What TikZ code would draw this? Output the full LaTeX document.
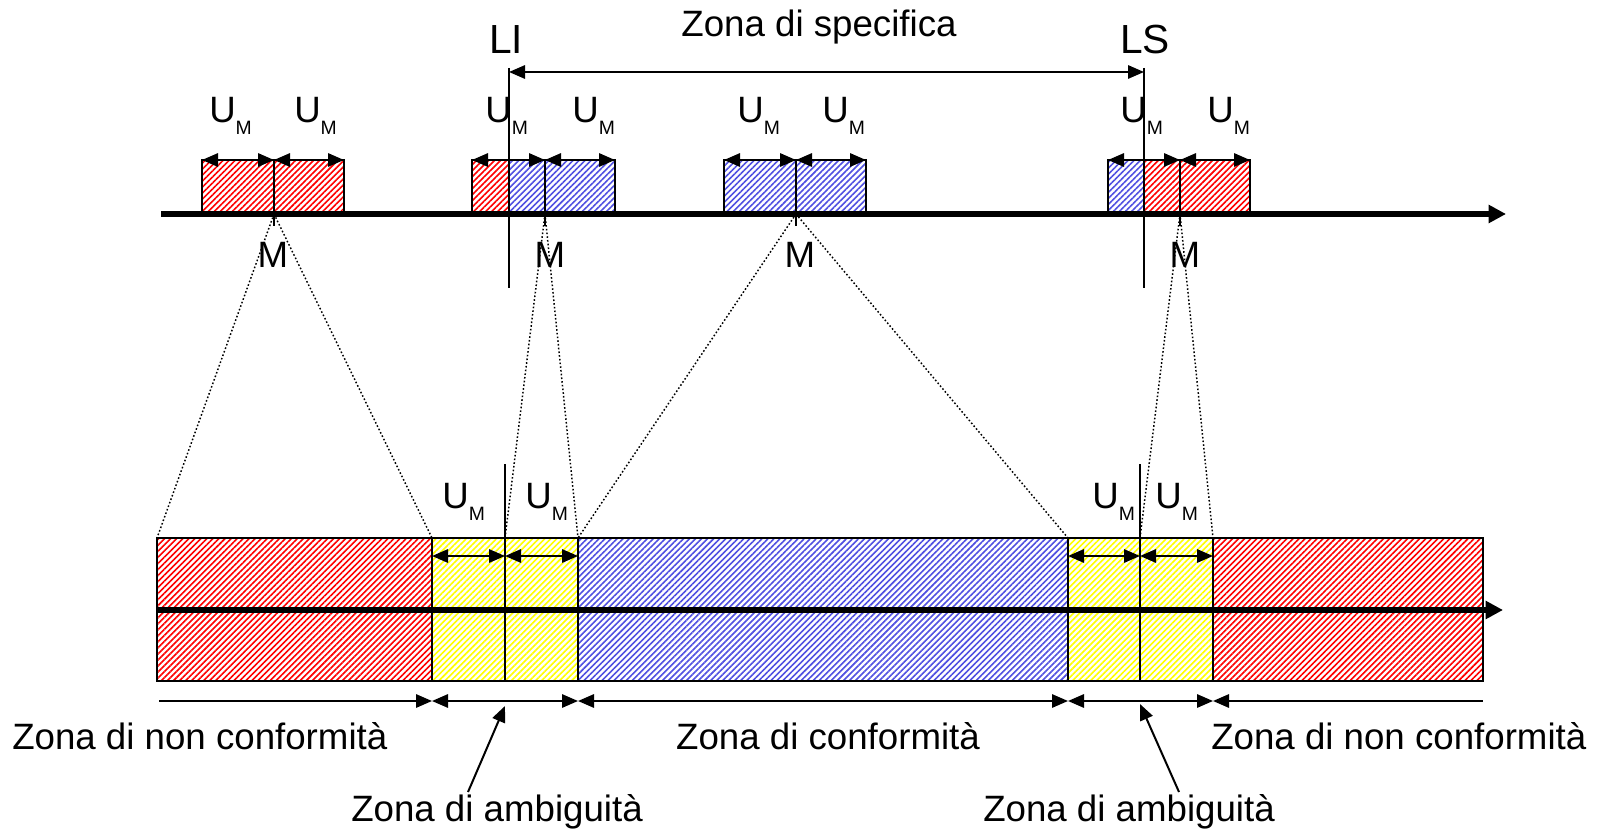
\documentclass[tikz,border=0pt]{standalone}
\usepackage{fontspec}
\setmainfont{Liberation Sans}
\usetikzlibrary{arrows.meta,patterns.meta}
\newcommand{\UmLabel}{U\raisebox{-9pt}{\fontsize{14.5}{16}\selectfont M}}

\begin{document}
\begin{tikzpicture}[x=0.75pt,y=0.75pt,yscale=-1,xscale=1,
  >={Triangle[length=12pt,width=10pt]},
  txt/.style={font=\fontsize{27.5}{33}\selectfont, inner sep=0pt},
  lim/.style={font=\fontsize{30.5}{36}\selectfont, inner sep=0pt},
  axisline/.style={line width=4pt, -{Triangle[length=13pt,width=13pt]}},
  thin/.style={line width=1.5pt},
  hred/.style={draw, line width=1.5pt, pattern={Lines[angle=45,distance=3.2pt,line width=1.2pt]}, pattern color=red},
  hblue/.style={draw, line width=1.5pt, pattern={Lines[angle=45,distance=3.2pt,line width=1.2pt]}, pattern color={rgb,255:red,80;green,80;blue,225}},
  hyel/.style={draw, line width=1.5pt, pattern={Lines[angle=45,distance=3.2pt,line width=1.2pt]}, pattern color=yellow},
  proj/.style={line width=1.1pt, dash pattern=on 1.2pt off 1.6pt}]
\useasboundingbox (0,0) rectangle (1606,830);

%Coordinates (measures on the axis)
\coordinate (m1) at (274,214);
\coordinate (m2) at (545,214);
\coordinate (m3) at (796,214);
\coordinate (m4) at (1180,214);
\coordinate (c0) at (157,538);
\coordinate (c1) at (432,538);
\coordinate (c2) at (505,538);
\coordinate (c3) at (578,538);
\coordinate (c4) at (1068,538);
\coordinate (c5) at (1140,538);
\coordinate (c6) at (1213,538);
\coordinate (c7) at (1483,538);

%Upper boxes
\draw [hred] (202,160) rectangle (m1);
\draw [hred] (274,160) rectangle (344,214);
\draw [hred] (472,160) rectangle (509,214);
\draw [hblue] (509,160) rectangle (m2);
\draw [hblue] (545,160) rectangle (615,214);
\draw [hblue] (724,160) rectangle (m3);
\draw [hblue] (796,160) rectangle (866,214);
\draw [hblue] (1108,160) rectangle (1144,214);
\draw [hred] (1144,160) rectangle (m4);
\draw [hred] (1180,160) rectangle (1250,214);

%Upper axis
\draw [axisline] (161,214) -- (1506,214);
\draw [thin] (m1) -- ++(0,12) (m2) -- ++(0,12) (m3) -- ++(0,12) (m4) -- ++(0,12);

%Limits LI and LS
\coordinate (liTop) at (509,72);
\coordinate (lsTop) at (1144,72);
\draw [thin] (509,68) -- (509,288);
\draw [thin] (1144,68) -- (1144,288);
\draw [thin,<->] (liTop) -- (lsTop);

%Uncertainty arrows (upper)
\draw [thin,<->] (202,160) -- (274,160);
\draw [thin,<->] (274,160) -- (344,160);
\draw [thin,<->] (472,160) -- (545,160);
\draw [thin,<->] (545,160) -- (615,160);
\draw [thin,<->] (724,160) -- (796,160);
\draw [thin,<->] (796,160) -- (866,160);
\draw [thin,<->] (1108,160) -- (1180,160);
\draw [thin,<->] (1180,160) -- (1250,160);

%Projection lines
\draw [proj] (m1) -- (c0) (m1) -- (c1);
\draw [proj] (m2) -- (c2) (m2) -- (c3);
\draw [proj] (m3) -- (c3) (m3) -- (c4);
\draw [proj] (m4) -- (c5) (m4) -- (c6);

%Lower zones
\draw [hred] (c0) rectangle (432,681);
\draw [hyel] (c1) rectangle (578,681);
\draw [hblue] (c3) rectangle (1068,681);
\draw [hyel] (c4) rectangle (1213,681);
\draw [hred] (c6) rectangle (1483,681);
\draw [axisline] (157,610) -- (1503,610);
\draw [thin] (505,464) -- (505,681);
\draw [thin] (1140,464) -- (1140,681);

%Uncertainty arrows (lower)
\draw [thin,<->] (432,556) -- (505,556);
\draw [thin,<->] (505,556) -- (578,556);
\draw [thin,<->] (1068,556) -- (1140,556);
\draw [thin,<->] (1140,556) -- (1213,556);

%Zone dimension line
\draw [thin,->] (159,701) -- (432,701);
\draw [thin,<->] (432,701) -- (578,701);
\draw [thin,<->] (578,701) -- (1068,701);
\draw [thin,<->] (1068,701) -- (1213,701);
\draw [thin,<-] (1213,701) -- (1483,701);

% Text Node
\node [txt, anchor=base] (spec) at (819,37) {Zona di specifica};
% Text Node
\node [lim, anchor=base] (li) at (506,54) {LI};
% Text Node
\node [lim, anchor=base] (ls) at (1145,54) {LS};
% Text Node
\node [txt, anchor=base] (mA) at (273,268) {M};
\node [txt, anchor=base] (mB) at (550,268) {M};
\node [txt, anchor=base] (mC) at (800,268) {M};
\node [txt, anchor=base] (mD) at (1185,268) {M};
% Text Node
\node [txt, anchor=base west] (umA) at (209,123) {\UmLabel};
\node [txt, anchor=base west] (umB) at (294,123) {\UmLabel};
\node [txt, anchor=base west] (umC) at (485,123) {\UmLabel};
\node [txt, anchor=base west] (umD) at (572,123) {\UmLabel};
\node [txt, anchor=base west] (umE) at (737,123) {\UmLabel};
\node [txt, anchor=base west] (umF) at (822,123) {\UmLabel};
\node [txt, anchor=base west] (umG) at (1120,123) {\UmLabel};
\node [txt, anchor=base west] (umH) at (1207,123) {\UmLabel};
% Text Node
\node [txt, anchor=base west] (umI) at (442,508) {\UmLabel};
\node [txt, anchor=base west] (umJ) at (525,508) {\UmLabel};
\node [txt, anchor=base west] (umK) at (1092,508) {\UmLabel};
\node [txt, anchor=base west] (umL) at (1155,508) {\UmLabel};
% Text Node
\node [txt, anchor=base west] (ncL) at (12,749) {Zona di non conformità};
\node [txt, anchor=base] (conf) at (828,749) {Zona di conformità};
\node [txt, anchor=base west] (ncR) at (1211,749) {Zona di non conformità};
% Text Node
\node [txt, anchor=base west] (ambL) at (351,821) {Zona di ambiguità};
\node [txt, anchor=base west] (ambR) at (983,821) {Zona di ambiguità};

%Pointers to the ambiguity zones
\coordinate (pL) at (505,706);
\coordinate (pR) at (1140,704);
\draw [thin,->] (468,792) -- (pL);
\draw [thin,->] (1179,792) -- (pR);

\end{tikzpicture}
\end{document}
